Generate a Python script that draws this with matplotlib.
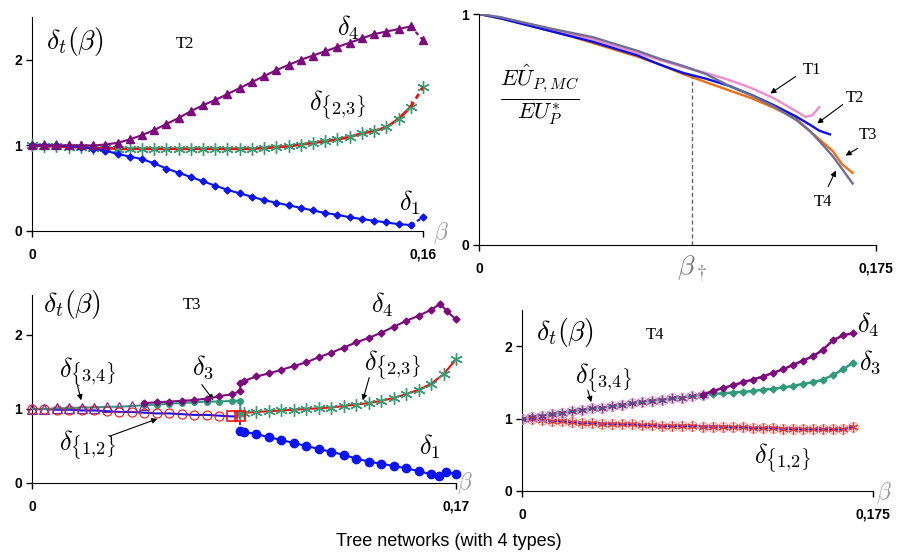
import numpy as np
import matplotlib
matplotlib.use("Agg")
import matplotlib.pyplot as plt

plt.rcParams['mathtext.fontset'] = 'cm'
plt.rcParams['font.family'] = ['Liberation Sans', 'DejaVu Sans']

# ---------------- T2 ----------------
b_t2 = np.round(np.arange(0, 0.16001, 0.005), 4)
t2_d4 = [1.0, 1.0, 1.0, 1.0, 1.0, 1.0, 1.01, 1.03, 1.07, 1.12, 1.18, 1.25, 1.32, 1.40, 1.47,
         1.53, 1.60, 1.67, 1.74, 1.81, 1.88, 1.94, 2.0, 2.05, 2.10, 2.15, 2.20, 2.25, 2.30,
         2.33, 2.36, 2.39, 2.23]
t2_d23 = [1.0, 0.99, 0.99, 0.98, 0.98, 0.97, 0.97, 0.96, 0.96, 0.96, 0.96, 0.96, 0.96, 0.96,
          0.96, 0.96, 0.96, 0.96, 0.96, 0.97, 0.98, 0.99, 1.01, 1.03, 1.05, 1.07, 1.10, 1.14,
          1.17, 1.21, 1.31, 1.45, 1.68]
t2_d1 = [1.0, 1.0, 1.0, 0.99, 0.98, 0.96, 0.94, 0.90, 0.87, 0.84, 0.79, 0.73, 0.68, 0.63,
         0.58, 0.53, 0.48, 0.44, 0.40, 0.36, 0.33, 0.30, 0.27, 0.24, 0.21, 0.19, 0.16, 0.14,
         0.12, 0.10, 0.08, 0.07, 0.16]

# ---------------- efficiency ratio ----------------
b_r1 = [0, 0.01, 0.02, 0.03, 0.04, 0.05, 0.06, 0.07, 0.08, 0.09, 0.10, 0.11, 0.12, 0.13, 0.14,
        0.144, 0.147, 0.15]
r_t1 = [1.0, 0.985, 0.962, 0.94, 0.915, 0.89, 0.86, 0.83, 0.80, 0.77, 0.745, 0.715, 0.68, 0.635,
        0.578, 0.554, 0.562, 0.597]
b_r2 = [0, 0.01, 0.02, 0.03, 0.04, 0.05, 0.06, 0.07, 0.08, 0.09, 0.10, 0.11, 0.12, 0.13, 0.14,
        0.146, 0.15, 0.1547]
r_t2 = [1.0, 0.98, 0.955, 0.93, 0.905, 0.88, 0.85, 0.82, 0.78, 0.745, 0.72, 0.69, 0.65, 0.605,
        0.555, 0.52, 0.495, 0.479]
b_r3 = [0, 0.01, 0.02, 0.03, 0.04, 0.05, 0.06, 0.07, 0.08, 0.09, 0.10, 0.11, 0.12, 0.13, 0.14,
        0.146, 0.15, 0.156, 0.16, 0.1647]
r_t3 = [1.0, 0.98, 0.955, 0.93, 0.905, 0.875, 0.845, 0.815, 0.78, 0.74, 0.705, 0.67, 0.636,
        0.594, 0.545, 0.492, 0.458, 0.406, 0.35, 0.312]
r_t4 = [1.0, 0.985, 0.962, 0.94, 0.92, 0.90, 0.87, 0.84, 0.805, 0.775, 0.74, 0.69, 0.648, 0.60,
        0.54, 0.492, 0.45, 0.384, 0.33, 0.266]
b_dagger = 0.0939
r_dagger = 0.73

# ---------------- T3 ----------------
b_t3_34 = [0, 0.005, 0.01, 0.015, 0.02, 0.025, 0.03, 0.035, 0.04, 0.045]
t3_d34 = [1.0, 1.0, 1.01, 1.01, 1.02, 1.02, 1.03, 1.03, 1.04, 1.05]
b_t3_12 = [0, 0.005, 0.01, 0.015, 0.02, 0.025, 0.03, 0.035, 0.04, 0.045, 0.05, 0.055, 0.06,
           0.065, 0.07, 0.075, 0.08, 0.0835]
t3_d12 = [1.0, 1.0, 0.99, 0.99, 0.98, 0.98, 0.97, 0.96, 0.96, 0.95, 0.94, 0.94, 0.93, 0.92,
          0.92, 0.91, 0.90, 0.90]
b_t3_3 = [0.045, 0.05, 0.055, 0.06, 0.065, 0.07, 0.075, 0.08, 0.0835, 0.0835]
t3_d3 = [1.05, 1.06, 1.07, 1.08, 1.09, 1.10, 1.10, 1.11, 1.11, 0.95]
b_t3_4 = [0.045, 0.05, 0.055, 0.06, 0.065, 0.07, 0.075, 0.08, 0.0835, 0.0835, 0.085, 0.09,
          0.095, 0.10, 0.105, 0.11, 0.115, 0.12, 0.125, 0.13, 0.135, 0.14, 0.145, 0.15, 0.155,
          0.16, 0.1636, 0.1664, 0.17]
t3_d4 = [1.08, 1.09, 1.10, 1.11, 1.12, 1.14, 1.17, 1.20, 1.24, 1.35, 1.38, 1.44, 1.48, 1.53,
         1.58, 1.63, 1.70, 1.76, 1.83, 1.90, 1.96, 2.03, 2.11, 2.19, 2.26, 2.34, 2.42, 2.32, 2.21]
b_t3_after = [0.0835, 0.085, 0.09, 0.095, 0.10, 0.105, 0.11, 0.115, 0.12, 0.125, 0.13, 0.135,
              0.14, 0.145, 0.15, 0.155, 0.16, 0.165, 0.17]
t3_d23 = [0.93, 0.95, 0.96, 0.97, 0.98, 0.99, 1.0, 1.01, 1.02, 1.04, 1.06, 1.08, 1.11, 1.15,
          1.20, 1.26, 1.34, 1.47, 1.67]
b_t3_1 = [0.0835, 0.085, 0.09, 0.095, 0.10, 0.105, 0.11, 0.115, 0.12, 0.125, 0.13, 0.135,
          0.14, 0.145, 0.15, 0.155, 0.16, 0.163, 0.166, 0.17]
t3_d1 = [0.70, 0.69, 0.66, 0.62, 0.58, 0.54, 0.50, 0.46, 0.42, 0.38, 0.33, 0.29, 0.26, 0.23,
         0.20, 0.16, 0.12, 0.10, 0.15, 0.12]

# ---------------- T4 ----------------
b_t4 = np.round(np.arange(0, 0.16501, 0.005), 4)
t4_d12 = [1.0, 0.99, 0.98, 0.97, 0.96, 0.95, 0.94, 0.94, 0.93, 0.93, 0.92, 0.92, 0.91, 0.91,
          0.90, 0.90, 0.90, 0.90, 0.89, 0.89, 0.89, 0.88, 0.88, 0.87, 0.87, 0.87, 0.86, 0.86,
          0.85, 0.85, 0.85, 0.85, 0.85, 0.89]
b_t4_34 = b_t4[:19]
t4_d34 = [1.0, 1.02, 1.04, 1.06, 1.08, 1.10, 1.12, 1.14, 1.15, 1.17, 1.19, 1.21, 1.23, 1.25,
          1.26, 1.28, 1.29, 1.31, 1.33]
b_t4_hi = b_t4[18:]
t4_d4 = [1.33, 1.38, 1.42, 1.46, 1.50, 1.54, 1.58, 1.63, 1.68, 1.74, 1.80, 1.86, 1.95, 2.08,
         2.15, 2.18]
t4_d3 = [1.33, 1.34, 1.35, 1.36, 1.37, 1.38, 1.40, 1.41, 1.43, 1.45, 1.48, 1.50, 1.54, 1.60,
         1.68, 1.77]

purple = '#7d0a7d'
blue = '#0a14f0'
red = '#f01010'
green = '#3a9a72'
teal = '#2f9a7c'

tick_font = dict(fontsize=10, fontweight='bold', family='Liberation Sans')
dfs = 19

# subscripts of the delta labels are set in sans serif
d12 = r'$\delta_{\mathsf{\{1{,}2\}}}$'
d23 = r'$\delta_{\mathsf{\{2{,}3\}}}$'
d34 = r'$\delta_{\mathsf{\{3{,}4\}}}$'
d1, d3, d4 = r'$\delta_{\mathsf{1}}$', r'$\delta_{\mathsf{3}}$', r'$\delta_{\mathsf{4}}$'


def style(ax, xmax, ymax, yticks, xlabels):
    ax.set_xlim(0, xmax)
    ax.set_ylim(0, ymax)
    for s in ['top', 'right']:
        ax.spines[s].set_visible(False)
    ax.set_facecolor('none')
    ax.set_yticks(yticks)
    ax.set_yticklabels([str(v) for v in yticks], **tick_font)
    ax.set_xticks([0, xmax])
    ax.set_xticklabels(xlabels, **tick_font)
    ax.tick_params(direction='out', length=4, width=1, pad=3)
    ax.tick_params(axis='x', pad=8)


def beta_label(ax, x, y):
    ax.text(x, y, r'$\beta$', transform=ax.transAxes, fontsize=17, color='#9a9a9a',
            ha='center', va='center')


star = (6, 2, 0)

fig = plt.figure(figsize=(8.98, 5.57), dpi=100)

# T2 panel
ax1 = fig.add_axes([32 / 898, 1 - 231 / 557, 391 / 898, 214 / 557])
style(ax1, 0.16, 2.5, [0, 1, 2], ['0', '0,16'])
ax1.plot(b_t2[:-1], t2_d23[:-1], color=red, lw=2, marker=star, ms=9, mec=green, mew=1,
         clip_on=False, zorder=3)
ax1.plot(b_t2[-2:], t2_d23[-2:], color=red, lw=2, ls=(0, (2, 1.5)), zorder=3)
ax1.plot(b_t2[-1:], t2_d23[-1:], ls='none', marker=star, ms=9, mec=green, mew=1, clip_on=False)
ax1.plot(b_t2[:-1], t2_d1[:-1], color=blue, lw=1.5, marker='D', ms=3.5, clip_on=False, zorder=4)
ax1.plot(b_t2[-2:], t2_d1[-2:], color=blue, lw=1.5, ls=(0, (2, 1.5)), zorder=4)
ax1.plot(b_t2[-1:], t2_d1[-1:], ls='none', color=blue, marker='D', ms=3.5, clip_on=False)
ax1.plot(b_t2[:-1], t2_d4[:-1], color=purple, lw=1.5, marker='^', ms=5.5, clip_on=False, zorder=5)
ax1.plot(b_t2[-2:], t2_d4[-2:], color=purple, lw=1.5, ls=(0, (2, 1.5)), zorder=5)
ax1.plot(b_t2[-1:], t2_d4[-1:], ls='none', color=purple, marker='^', ms=5.5, clip_on=False)
ax1.text(0.0176, 2.21, r'$\delta_t(\beta)$', fontsize=dfs + 1, ha='center', va='center')
ax1.text(0.0626, 2.18, 'T2', fontsize=12, family='Liberation Serif', ha='center', va='center')
ax1.text(0.1293, 2.37, d4, fontsize=dfs, ha='center', va='center')
ax1.text(0.125, 1.47, d23, fontsize=dfs, ha='center', va='center')
ax1.text(0.1547, 0.33, d1, fontsize=dfs, ha='center', va='center')
beta_label(ax1, 1.045, -0.01)

# efficiency ratio panel
ax2 = fig.add_axes([479 / 898, 1 - 245 / 557, 397 / 898, 231 / 557])
style(ax2, 0.175, 1.0, [0, 1], ['0', '0,175'])
ax2.plot(b_r1, r_t1, color='#f08ccc', lw=1.7)
ax2.plot(b_r3, r_t3, color='#f0700f', lw=1.7)
ax2.plot(b_r2, r_t2, color='#0a10e6', lw=1.7)
ax2.plot(b_r3, r_t4, color='#6e6e96', lw=1.7)
ax2.plot([b_dagger, b_dagger], [0, r_dagger], color='#666666', lw=1, ls=(0, (3, 2)))
ax2.text(b_dagger, -0.1, r'$\beta_\dagger$', fontsize=20, color='#7a7a7a', ha='center',
         va='center')
ax2.text(0.0269, 0.65, r'$\frac{E\hat{U}_{P,MC}}{EU^{*}_{P}}$', fontsize=23, ha='center',
         va='center')
arrow = dict(arrowstyle='-|>', color='black', lw=0.8, mutation_scale=8)
for lbl, txy, tail, head in [('T1', (0.1468, 0.758), (0.1406, 0.736), (0.1274, 0.649)),
                             ('T2', (0.1657, 0.636), (0.1613, 0.615), (0.1481, 0.519)),
                             ('T3', (0.1715, 0.476), (0.1679, 0.424), (0.1605, 0.381)),
                             ('T4', (0.1516, 0.186), (0.1534, 0.242), (0.1578, 0.333))]:
    ax2.text(*txy, lbl, fontsize=12, family='Liberation Serif', ha='center', va='center')
    ax2.annotate('', xy=head, xytext=tail, arrowprops=arrow)

# T3 panel
ax3 = fig.add_axes([32 / 898, 1 - 483 / 557, 424 / 898, 188 / 557])
style(ax3, 0.17, 2.54, [0, 1, 2], ['0', '0,17'])
ax3.plot(b_t3_12, t3_d12, color=blue, lw=1.5, zorder=3)
ax3.plot(b_t3_12[:-2], t3_d12[:-2], ls='none', marker='o', ms=6.5, mfc='none', mec=red, mew=0.8,
         zorder=4, clip_on=False)
ax3.plot(b_t3_12[-2:], t3_d12[-2:], ls='none', marker='s', ms=7, mfc='none', mec=red, mew=1.2,
         zorder=4)
ax3.plot([b_t3_1[0], b_t3_1[0]], [t3_d12[-1], t3_d1[0]], color=blue, lw=1.2, ls=(0, (2, 1.5)))
ax3.plot(b_t3_34, t3_d34, color=teal, lw=1.5, zorder=3)
ax3.plot(b_t3_34, t3_d34, ls='none', marker='^', ms=7.5, mfc='none', mec='#8a2a9a', mew=0.9,
         zorder=4, clip_on=False)
ax3.plot(b_t3_3, t3_d3, color=teal, lw=1.5, marker='o', ms=4, zorder=3)
ax3.plot(b_t3_4, t3_d4, color=purple, lw=1.5, marker='D', ms=3.5, zorder=4, clip_on=False)
ax3.plot(b_t3_after, t3_d23, color=red, lw=1.5, marker=star, ms=9, mec=green, mew=1, zorder=3,
         clip_on=False)
ax3.plot(b_t3_1, t3_d1, color=blue, lw=1.5, marker='o', ms=6, zorder=4, clip_on=False)
ax3.text(0.016, 2.41, r'$\delta_t(\beta)$', fontsize=dfs + 1, ha='center', va='center')
ax3.text(0.0642, 2.41, 'T3', fontsize=12, family='Liberation Serif', ha='center', va='center')
ax3.text(0.1403, 2.41, d4, fontsize=dfs, ha='center', va='center')
ax3.text(0.1447, 1.59, d23, fontsize=dfs, ha='center', va='center')
ax3.text(0.0686, 1.57, d3, fontsize=dfs, ha='center', va='center')
ax3.text(0.0221, 1.50, d34, fontsize=dfs, ha='center', va='center')
ax3.text(0.0221, 0.51, d12, fontsize=dfs, ha='center', va='center')
ax3.text(0.1596, 0.49, d1, fontsize=dfs, ha='center', va='center')
for tail, head in [((0.1355, 1.46), (0.1323, 1.08)), ((0.0674, 1.36), (0.0734, 1.09)),
                   ((0.018, 1.35), (0.020, 1.08)), ((0.0301, 0.62), (0.0513, 0.88))]:
    ax3.annotate('', xy=head, xytext=tail, arrowprops=arrow)
beta_label(ax3, 1.02, 0.0)

# T4 panel
ax4 = fig.add_axes([522 / 898, 1 - 491 / 557, 351 / 898, 181 / 557])
style(ax4, 0.175, 2.5, [0, 1, 2], ['0', '0,175'])
ax4.plot(b_t4, t4_d12, color=blue, lw=1.8, zorder=3)
ax4.plot(b_t4, t4_d12, ls='none', marker='o', ms=7, mfc='none', mec='#f0a8a0', mew=0.8, zorder=4)
ax4.plot(b_t4, t4_d12, ls='none', marker=star, ms=7, mec='#e83a3a', mew=0.9, zorder=4)
ax4.plot(b_t4_34, t4_d34, color=teal, lw=1.8, zorder=3)
ax4.plot(b_t4_34, t4_d34, ls='none', marker=star, ms=8, mec='#7a3a8a', mew=1, zorder=4)
ax4.plot(b_t4_34, t4_d34, ls='none', marker='o', ms=7, mfc='none', mec='#d8a0d8', mew=0.6,
         zorder=4)
ax4.plot(b_t4_hi, t4_d3, color=teal, lw=1.8, marker='D', ms=3.5, zorder=3)
ax4.plot(b_t4_hi, t4_d4, color=purple, lw=1.8, marker='D', ms=3.5, zorder=4)
ax4.text(0.0214, 2.19, r'$\delta_t(\beta)$', fontsize=dfs + 1, ha='center', va='center')
ax4.text(0.0663, 2.15, 'T4', fontsize=12, family='Liberation Serif', ha='center', va='center')
ax4.text(0.1725, 2.29, d4, fontsize=dfs, ha='center', va='center')
ax4.text(0.1735, 1.78, d3, fontsize=dfs, ha='center', va='center')
ax4.text(0.0404, 1.56, d34, fontsize=dfs, ha='center', va='center')
ax4.text(0.1296, 0.46, d12, fontsize=dfs, ha='center', va='center')
ax4.annotate('', xy=(0.0349, 1.19), xytext=(0.0324, 1.43), arrowprops=arrow)
beta_label(ax4, 1.03, -0.01)

fig.text(0.5, 1 - 541 / 557, 'Tree networks (with 4 types)', fontsize=13, ha='center',
         va='center', family='Liberation Sans')

fig.savefig('out.png', dpi=100)
